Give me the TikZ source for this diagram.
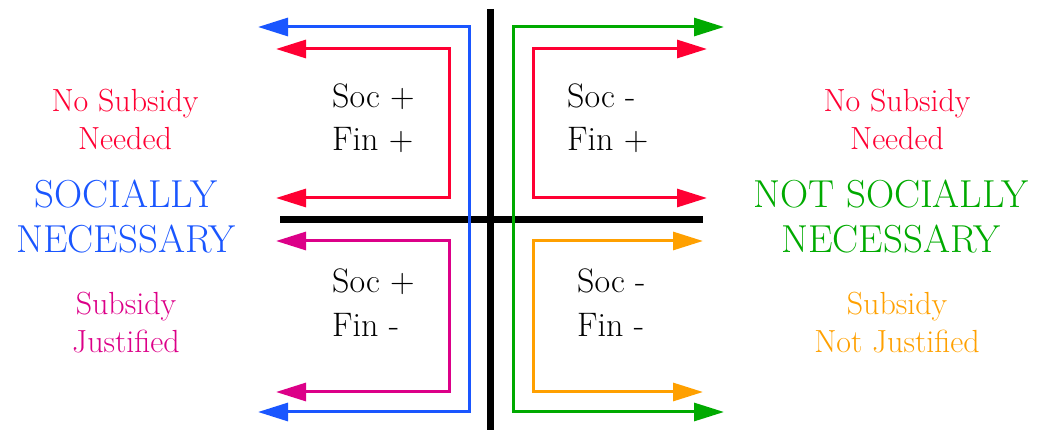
\documentclass[tikz,border=0pt]{standalone}
\usepackage{fontspec}
\usetikzlibrary{arrows.meta}
\definecolor{cred}{RGB}{255,0,51}
\definecolor{cblue}{RGB}{26,86,255}
\definecolor{cgreen}{RGB}{0,170,0}
\definecolor{cmag}{RGB}{220,0,136}
\definecolor{corange}{RGB}{255,160,0}
\tikzset{
  axis/.style={line width=7pt, black},
  flow/.style={line width=3pt, line join=miter, {Triangle[length=30pt,width=18pt]}-{Triangle[length=30pt,width=18pt]}},
  quad/.style={anchor=base west, inner sep=0pt, font=\rmfamily\fontsize{34}{40}\selectfont},
  side/.style={anchor=base, inner sep=0pt, font=\rmfamily\fontsize{32}{36}\selectfont},
  big/.style={anchor=base, inner sep=0pt, font=\rmfamily\fontsize{39}{44}\selectfont},
}
\begin{document}
\begin{tikzpicture}[x=1pt,y=-1pt]
\useasboundingbox (0,0) rectangle (1037,430);
% axes
\coordinate (vT) at (490.5,9);
\coordinate (vB) at (490.5,430);
\coordinate (hL) at (280,220);
\coordinate (hR) at (703,220);
\draw[axis] (vT) -- (vB);
\draw[axis] (hL) -- (hR);
% blue
\coordinate (b1) at (258,27);
\coordinate (b2) at (469,27);
\coordinate (b3) at (469,412);
\coordinate (b4) at (258,412);
\draw[flow, cblue] (b1) -- (b2) -- (b3) -- (b4);
% red left
\coordinate (r1) at (276,49);
\coordinate (r2) at (449,49);
\coordinate (r3) at (449,198);
\coordinate (r4) at (276,198);
\draw[flow, cred] (r1) -- (r2) -- (r3) -- (r4);
% magenta
\coordinate (m1) at (276,241);
\coordinate (m2) at (449,241);
\coordinate (m3) at (449,392);
\coordinate (m4) at (276,392);
\draw[flow, cmag] (m1) -- (m2) -- (m3) -- (m4);
% green
\coordinate (g1) at (724,27);
\coordinate (g2) at (513,27);
\coordinate (g3) at (513,412);
\coordinate (g4) at (724,412);
\draw[flow, cgreen] (g1) -- (g2) -- (g3) -- (g4);
% red right
\coordinate (s1) at (707,49);
\coordinate (s2) at (533,49);
\coordinate (s3) at (533,198);
\coordinate (s4) at (707,198);
\draw[flow, cred] (s1) -- (s2) -- (s3) -- (s4);
% orange
\coordinate (o1) at (703,241);
\coordinate (o2) at (533,241);
\coordinate (o3) at (533,392);
\coordinate (o4) at (703,392);
\draw[flow, corange] (o1) -- (o2) -- (o3) -- (o4);
% quadrant texts
\node[quad] (q1a) at (332,108) {Soc +};
\node[quad] (q1b) at (332,151) {Fin +};
\node[quad] (q2a) at (567,108) {Soc -};
\node[quad] (q2b) at (567,151) {Fin +};
\node[quad] (q3a) at (332,293) {Soc +};
\node[quad] (q3b) at (332,337) {Fin -};
\node[quad] (q4a) at (577,293) {Soc -};
\node[quad] (q4b) at (577,337) {Fin -};
% left labels
\node[side, cred] (l1) at (125,112) {No Subsidy};
\node[side, cred] (l2) at (125,150) {Needed};
\node[big, cblue] (l3) at (126,208) {SOCIALLY};
\node[big, cblue] (l4) at (126,253) {NECESSARY};
\node[side, cmag] (l5) at (126,315) {Subsidy};
\node[side, cmag] (l6) at (126,353) {Justified};
% right labels
\node[side, cred] (r1t) at (897,112) {No Subsidy};
\node[side, cred] (r2t) at (897,150) {Needed};
\node[big, cgreen] (r3t) at (891,208) {NOT SOCIALLY};
\node[big, cgreen] (r4t) at (891,253) {NECESSARY};
\node[side, corange] (r5t) at (897,315) {Subsidy};
\node[side, corange] (r6t) at (897,353) {Not Justified};
\end{tikzpicture}
\end{document}
